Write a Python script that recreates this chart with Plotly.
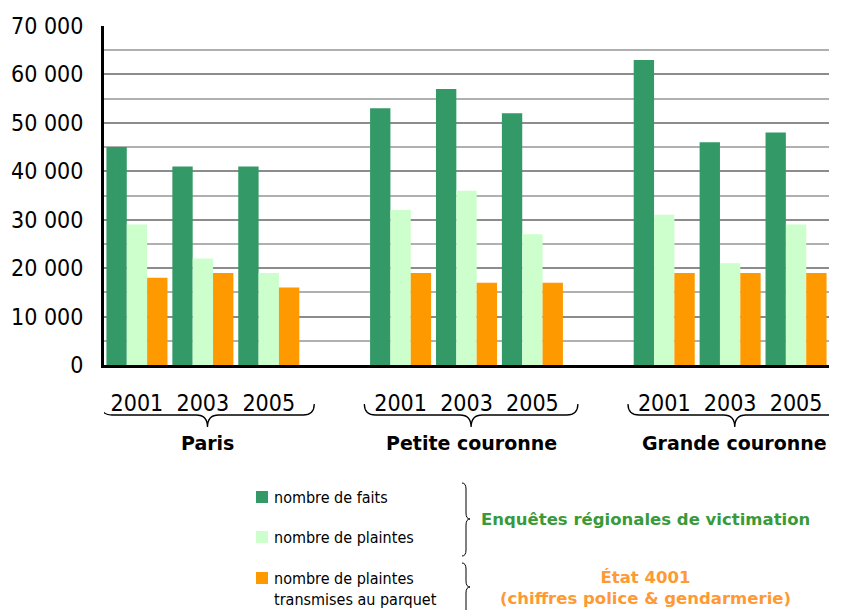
import plotly.graph_objects as go

# ---------------- data ----------------
regions = ["Paris", "Petite couronne", "Grande couronne"]
years = ["2001", "2003", "2005"]
series_names = ["nombre de faits", "nombre de plaintes",
                "nombre de plaintes<br>transmises au parquet"]
faits = [45000, 41000, 41000, 53000, 57000, 52000, 63000, 46000, 48000]
plaintes = [29000, 22000, 19000, 32000, 36000, 27000, 31000, 21000, 29000]
parquet = [18000, 19000, 16000, 19000, 17000, 17000, 19000, 19000, 19000]
series_values = [faits, plaintes, parquet]
colors = ["#339966", "#CCFFCC", "#FF9900"]
source_labels = ["Enquêtes régionales de victimation",
                 "État 4001<br>(chiffres police & gendarmerie)"]
source_colors = ["#3A9A3A", "#FF9933"]
y_ticks = [0, 10000, 20000, 30000, 40000, 50000, 60000, 70000]

# ---------------- layout constants ----------------
OFF = 8  # page body margin of the html page
FIG_W, FIG_H = 845 - OFF, 610 - OFF
ML, MR, MT, MB = 104 - OFF, 16, 26 - OFF, 245
PW, PH = FIG_W - ML - MR, FIG_H - MT - MB
FONT = "Tahoma, 'DejaVu Sans Condensed', 'Liberation Sans', sans-serif"
FONT_B = "'DejaVu Sans', Verdana, sans-serif"


def px(x):
    """page pixel x -> paper x"""
    return (x - OFF - ML) / PW


def py(y):
    """page pixel y -> paper y"""
    return (FIG_H - MB - (y - OFF)) / PH


# x positions: 3 years per region, one empty slot between regions
xpos = [r * 4 + j for r in range(len(regions)) for j in range(len(years))]
ticktext = [years[j] for r in range(len(regions)) for j in range(len(years))]

fig = go.Figure()
for name, vals, col in zip(series_names, series_values, colors):
    fig.add_trace(go.Bar(x=xpos, y=vals, name=name.replace("<br>", " "),
                         marker=dict(color=col, line=dict(width=0)),
                         showlegend=False))

shapes = []
annotations = []

# braces under the x axis + region labels
rx = 0.17
yt, ym, yb = py(404), py(415), py(427)
for r, reg in enumerate(regions):
    c = r * 4 + 1 + 0.07
    x0, x1 = c - 1.62, c + 1.62
    path = (f"M{x0},{yt} Q{x0},{ym} {x0 + rx},{ym} L{c - rx},{ym} "
            f"Q{c},{ym} {c},{yb} Q{c},{ym} {c + rx},{ym} "
            f"L{x1 - rx},{ym} Q{x1},{ym} {x1},{yt}")
    shapes.append(dict(type="path", path=path, xref="x", yref="paper",
                       line=dict(color="black", width=1.3)))
    annotations.append(dict(x=c, y=py(443), xref="x", yref="paper",
                            text=f"<b>{reg}</b>", showarrow=False,
                            xanchor="center", yanchor="middle",
                            font=dict(family=FONT_B, size=19, color="black")))

# custom legend
leg_y = [497, 537, 589]
sq_y = [497, 537, 578]
for name, col, ly, sy in zip(series_names, colors, leg_y, sq_y):
    shapes.append(dict(type="rect", xref="paper", yref="paper",
                       x0=px(256), x1=px(268), y0=py(sy - 6), y1=py(sy + 6),
                       fillcolor=col, line=dict(width=0)))
    annotations.append(dict(x=px(272), y=py(ly), xref="paper", yref="paper",
                            text=name, showarrow=False, align="left",
                            xanchor="left", yanchor="middle",
                            font=dict(family=FONT, size=16, color="black")))


def vbrace(y0, ytip, y1, xl=462, xm=466, xt=470, r=6):
    X = lambda v: px(v)
    Y = lambda v: py(v)
    return (f"M{X(xl)},{Y(y0)} Q{X(xm)},{Y(y0)} {X(xm)},{Y(y0 + r)} "
            f"L{X(xm)},{Y(ytip - r)} Q{X(xm)},{Y(ytip)} {X(xt)},{Y(ytip)} "
            f"Q{X(xm)},{Y(ytip)} {X(xm)},{Y(ytip + r)} "
            f"L{X(xm)},{Y(y1 - r)} Q{X(xm)},{Y(y1)} {X(xl)},{Y(y1)}")


for (y0, ytip, y1) in [(483, 519, 556), (563, 587, 616)]:
    shapes.append(dict(type="path", path=vbrace(y0, ytip, y1),
                       xref="paper", yref="paper",
                       line=dict(color="black", width=1)))

for txt, col, ly in zip(source_labels, source_colors, [519, 588]):
    annotations.append(dict(x=px(645), y=py(ly), xref="paper", yref="paper",
                            text=f"<b>{txt}</b>", showarrow=False,
                            align="center", xanchor="center", yanchor="middle",
                            font=dict(family=FONT_B, size=16.5, color=col)))

fig.update_layout(
    width=FIG_W, height=FIG_H,
    margin=dict(l=ML, r=MR, t=MT, b=MB, pad=0),
    paper_bgcolor="white", plot_bgcolor="white",
    barmode="group", bargap=0.074, bargroupgap=0,
    separators=", ",
    font=dict(family=FONT, color="black"),
    shapes=shapes, annotations=annotations,
    xaxis=dict(range=[-0.5, 10.5], tickmode="array", tickvals=xpos,
               ticktext=ticktext, showgrid=False, zeroline=False,
               showline=True, linecolor="black", linewidth=3,
               ticks="", ticklabelstandoff=15, automargin=False,
               tickfont=dict(family=FONT, size=23, color="black")),
    yaxis=dict(range=[0, 70000], tickmode="array", tickvals=y_ticks,
               tickformat=",d", showgrid=True, gridcolor="#8c8c8c",
               gridwidth=2, zeroline=False, showline=True,
               linecolor="black", linewidth=3, ticks="",
               ticklabelstandoff=13, automargin=False,
               minor=dict(dtick=5000, showgrid=True, gridcolor="#b0b0b0",
                          gridwidth=2),
               tickfont=dict(family=FONT, size=23, color="black")),
)

fig.write_html("out.html")
